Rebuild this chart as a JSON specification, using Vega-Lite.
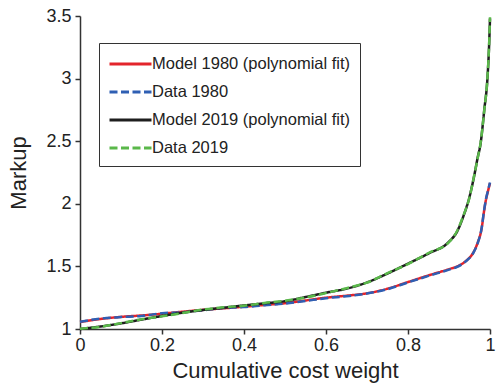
{
  "$schema": "https://vega.github.io/schema/vega-lite/v6.json",
  "width": 410,
  "height": 313,
  "autosize": {"type": "none"},
  "padding": {"left": 80, "top": 16, "right": 7, "bottom": 59},
  "background": "white",
  "config": {
    "view": {"stroke": null},
    "font": "Liberation Sans",
    "axis": {
      "labelFont": "Liberation Sans",
      "titleFont": "Liberation Sans",
      "labelFontSize": 18,
      "titleFontSize": 22,
      "titleFontWeight": "normal",
      "labelColor": "#222",
      "titleColor": "#222",
      "domainColor": "#333",
      "tickColor": "#333",
      "domainWidth": 1.5,
      "tickWidth": 1.5,
      "tickSize": 5,
      "grid": false,
      "labelFlush": false,
      "labelOverlap": false
    },
    "legend": {
      "labelFont": "Liberation Sans",
      "labelFontSize": 16.5,
      "labelColor": "#222",
      "labelLimit": 400
    }
  },
  "data": {
    "values": [
      {"x": 0, "y": 1.056, "series": "Model 1980 (polynomial fit)"},
      {"x": 0.05, "y": 1.080, "series": "Model 1980 (polynomial fit)"},
      {"x": 0.1, "y": 1.097, "series": "Model 1980 (polynomial fit)"},
      {"x": 0.15, "y": 1.108, "series": "Model 1980 (polynomial fit)"},
      {"x": 0.2, "y": 1.122, "series": "Model 1980 (polynomial fit)"},
      {"x": 0.25, "y": 1.138, "series": "Model 1980 (polynomial fit)"},
      {"x": 0.3, "y": 1.153, "series": "Model 1980 (polynomial fit)"},
      {"x": 0.35, "y": 1.165, "series": "Model 1980 (polynomial fit)"},
      {"x": 0.4, "y": 1.178, "series": "Model 1980 (polynomial fit)"},
      {"x": 0.45, "y": 1.192, "series": "Model 1980 (polynomial fit)"},
      {"x": 0.5, "y": 1.206, "series": "Model 1980 (polynomial fit)"},
      {"x": 0.55, "y": 1.228, "series": "Model 1980 (polynomial fit)"},
      {"x": 0.6, "y": 1.250, "series": "Model 1980 (polynomial fit)"},
      {"x": 0.65, "y": 1.266, "series": "Model 1980 (polynomial fit)"},
      {"x": 0.7, "y": 1.285, "series": "Model 1980 (polynomial fit)"},
      {"x": 0.75, "y": 1.322, "series": "Model 1980 (polynomial fit)"},
      {"x": 0.8, "y": 1.375, "series": "Model 1980 (polynomial fit)"},
      {"x": 0.85, "y": 1.428, "series": "Model 1980 (polynomial fit)"},
      {"x": 0.9, "y": 1.478, "series": "Model 1980 (polynomial fit)"},
      {"x": 0.92, "y": 1.500, "series": "Model 1980 (polynomial fit)"},
      {"x": 0.94, "y": 1.540, "series": "Model 1980 (polynomial fit)"},
      {"x": 0.96, "y": 1.615, "series": "Model 1980 (polynomial fit)"},
      {"x": 0.97, "y": 1.690, "series": "Model 1980 (polynomial fit)"},
      {"x": 0.98, "y": 1.810, "series": "Model 1980 (polynomial fit)"},
      {"x": 0.985, "y": 1.930, "series": "Model 1980 (polynomial fit)"},
      {"x": 0.99, "y": 2.030, "series": "Model 1980 (polynomial fit)"},
      {"x": 0.995, "y": 2.100, "series": "Model 1980 (polynomial fit)"},
      {"x": 1.0, "y": 2.165, "series": "Model 1980 (polynomial fit)"},

      {"x": 0, "y": 1.058, "series": "Data 1980"},
      {"x": 0.05, "y": 1.083, "series": "Data 1980"},
      {"x": 0.1, "y": 1.095, "series": "Data 1980"},
      {"x": 0.15, "y": 1.104, "series": "Data 1980"},
      {"x": 0.2, "y": 1.126, "series": "Data 1980"},
      {"x": 0.25, "y": 1.134, "series": "Data 1980"},
      {"x": 0.3, "y": 1.150, "series": "Data 1980"},
      {"x": 0.35, "y": 1.168, "series": "Data 1980"},
      {"x": 0.4, "y": 1.175, "series": "Data 1980"},
      {"x": 0.45, "y": 1.190, "series": "Data 1980"},
      {"x": 0.5, "y": 1.203, "series": "Data 1980"},
      {"x": 0.55, "y": 1.224, "series": "Data 1980"},
      {"x": 0.6, "y": 1.246, "series": "Data 1980"},
      {"x": 0.65, "y": 1.262, "series": "Data 1980"},
      {"x": 0.7, "y": 1.283, "series": "Data 1980"},
      {"x": 0.75, "y": 1.318, "series": "Data 1980"},
      {"x": 0.8, "y": 1.372, "series": "Data 1980"},
      {"x": 0.85, "y": 1.424, "series": "Data 1980"},
      {"x": 0.9, "y": 1.474, "series": "Data 1980"},
      {"x": 0.92, "y": 1.496, "series": "Data 1980"},
      {"x": 0.94, "y": 1.538, "series": "Data 1980"},
      {"x": 0.96, "y": 1.612, "series": "Data 1980"},
      {"x": 0.97, "y": 1.685, "series": "Data 1980"},
      {"x": 0.98, "y": 1.815, "series": "Data 1980"},
      {"x": 0.985, "y": 1.935, "series": "Data 1980"},
      {"x": 0.99, "y": 2.035, "series": "Data 1980"},
      {"x": 0.995, "y": 2.105, "series": "Data 1980"},
      {"x": 1.0, "y": 2.170, "series": "Data 1980"},

      {"x": 0, "y": 1.000, "series": "Model 2019 (polynomial fit)"},
      {"x": 0.05, "y": 1.020, "series": "Model 2019 (polynomial fit)"},
      {"x": 0.1, "y": 1.045, "series": "Model 2019 (polynomial fit)"},
      {"x": 0.15, "y": 1.075, "series": "Model 2019 (polynomial fit)"},
      {"x": 0.2, "y": 1.104, "series": "Model 2019 (polynomial fit)"},
      {"x": 0.25, "y": 1.130, "series": "Model 2019 (polynomial fit)"},
      {"x": 0.3, "y": 1.152, "series": "Model 2019 (polynomial fit)"},
      {"x": 0.35, "y": 1.170, "series": "Model 2019 (polynomial fit)"},
      {"x": 0.4, "y": 1.188, "series": "Model 2019 (polynomial fit)"},
      {"x": 0.45, "y": 1.205, "series": "Model 2019 (polynomial fit)"},
      {"x": 0.5, "y": 1.222, "series": "Model 2019 (polynomial fit)"},
      {"x": 0.55, "y": 1.255, "series": "Model 2019 (polynomial fit)"},
      {"x": 0.6, "y": 1.290, "series": "Model 2019 (polynomial fit)"},
      {"x": 0.65, "y": 1.322, "series": "Model 2019 (polynomial fit)"},
      {"x": 0.7, "y": 1.372, "series": "Model 2019 (polynomial fit)"},
      {"x": 0.75, "y": 1.443, "series": "Model 2019 (polynomial fit)"},
      {"x": 0.8, "y": 1.522, "series": "Model 2019 (polynomial fit)"},
      {"x": 0.85, "y": 1.603, "series": "Model 2019 (polynomial fit)"},
      {"x": 0.9, "y": 1.697, "series": "Model 2019 (polynomial fit)"},
      {"x": 0.92, "y": 1.780, "series": "Model 2019 (polynomial fit)"},
      {"x": 0.935, "y": 1.900, "series": "Model 2019 (polynomial fit)"},
      {"x": 0.95, "y": 2.055, "series": "Model 2019 (polynomial fit)"},
      {"x": 0.961, "y": 2.216, "series": "Model 2019 (polynomial fit)"},
      {"x": 0.97, "y": 2.370, "series": "Model 2019 (polynomial fit)"},
      {"x": 0.977, "y": 2.480, "series": "Model 2019 (polynomial fit)"},
      {"x": 0.986, "y": 2.750, "series": "Model 2019 (polynomial fit)"},
      {"x": 0.994, "y": 3.015, "series": "Model 2019 (polynomial fit)"},
      {"x": 0.998, "y": 3.280, "series": "Model 2019 (polynomial fit)"},
      {"x": 1.0, "y": 3.480, "series": "Model 2019 (polynomial fit)"},

      {"x": 0, "y": 1.002, "series": "Data 2019"},
      {"x": 0.05, "y": 1.018, "series": "Data 2019"},
      {"x": 0.1, "y": 1.047, "series": "Data 2019"},
      {"x": 0.15, "y": 1.078, "series": "Data 2019"},
      {"x": 0.2, "y": 1.101, "series": "Data 2019"},
      {"x": 0.25, "y": 1.127, "series": "Data 2019"},
      {"x": 0.3, "y": 1.155, "series": "Data 2019"},
      {"x": 0.35, "y": 1.173, "series": "Data 2019"},
      {"x": 0.4, "y": 1.186, "series": "Data 2019"},
      {"x": 0.45, "y": 1.208, "series": "Data 2019"},
      {"x": 0.5, "y": 1.226, "series": "Data 2019"},
      {"x": 0.55, "y": 1.252, "series": "Data 2019"},
      {"x": 0.6, "y": 1.287, "series": "Data 2019"},
      {"x": 0.65, "y": 1.326, "series": "Data 2019"},
      {"x": 0.7, "y": 1.370, "series": "Data 2019"},
      {"x": 0.75, "y": 1.447, "series": "Data 2019"},
      {"x": 0.8, "y": 1.519, "series": "Data 2019"},
      {"x": 0.85, "y": 1.607, "series": "Data 2019"},
      {"x": 0.9, "y": 1.693, "series": "Data 2019"},
      {"x": 0.92, "y": 1.785, "series": "Data 2019"},
      {"x": 0.935, "y": 1.905, "series": "Data 2019"},
      {"x": 0.95, "y": 2.050, "series": "Data 2019"},
      {"x": 0.961, "y": 2.220, "series": "Data 2019"},
      {"x": 0.97, "y": 2.365, "series": "Data 2019"},
      {"x": 0.977, "y": 2.485, "series": "Data 2019"},
      {"x": 0.986, "y": 2.745, "series": "Data 2019"},
      {"x": 0.994, "y": 3.020, "series": "Data 2019"},
      {"x": 0.998, "y": 3.285, "series": "Data 2019"},
      {"x": 1.0, "y": 3.490, "series": "Data 2019"}
    ]
  },
  "encoding": {
    "x": {
      "field": "x", "type": "quantitative",
      "scale": {"domain": [0, 1], "nice": false},
      "axis": {"values": [0, 0.2, 0.4, 0.6, 0.8, 1], "format": "~g", "title": "Cumulative cost weight", "labelPadding": 2, "titlePadding": 6}
    },
    "y": {
      "field": "y", "type": "quantitative",
      "scale": {"domain": [1, 3.5], "nice": false},
      "axis": {"values": [1, 1.5, 2, 2.5, 3, 3.5], "format": "~g", "title": "Markup", "labelPadding": 4, "titlePadding": 15}
    },
    "color": {
      "field": "series", "type": "nominal",
      "scale": {
        "domain": ["Model 1980 (polynomial fit)", "Data 1980", "Model 2019 (polynomial fit)", "Data 2019"],
        "range": ["#e3242b", "#2f5fb3", "#1e1e1e", "#5ab84a"]
      },
      "legend": {
        "title": null, "orient": "none", "legendX": 19, "legendY": 27,
        "strokeColor": "#333", "fillColor": "white", "padding": 9,
        "symbolType": "M-1,0H3", "symbolSize": 441, "symbolStrokeWidth": 3,
        "labelOffset": 20, "rowPadding": 7
      }
    },
    "strokeDash": {
      "field": "series", "type": "nominal",
      "scale": {
        "domain": ["Model 1980 (polynomial fit)", "Data 1980", "Model 2019 (polynomial fit)", "Data 2019"],
        "range": [[1, 0], [8, 3.5], [1, 0], [8, 3.5]]
      },
      "legend": {
        "title": null, "orient": "none", "legendX": 19, "legendY": 27,
        "strokeColor": "#333", "fillColor": "white", "padding": 9,
        "symbolType": "M-1,0H3", "symbolSize": 441, "symbolStrokeWidth": 3,
        "labelOffset": 20, "rowPadding": 7
      }
    }
  },
  "layer": [
    {"transform": [{"filter": "datum.series === 'Model 1980 (polynomial fit)'"}], "mark": {"type": "line", "strokeWidth": 2.5, "interpolate": "monotone"}},
    {"transform": [{"filter": "datum.series === 'Data 1980'"}], "mark": {"type": "line", "strokeWidth": 2.5, "interpolate": "monotone"}},
    {"transform": [{"filter": "datum.series === 'Model 2019 (polynomial fit)'"}], "mark": {"type": "line", "strokeWidth": 2.5, "interpolate": "monotone"}},
    {"transform": [{"filter": "datum.series === 'Data 2019'"}], "mark": {"type": "line", "strokeWidth": 2.5, "interpolate": "monotone"}}
  ]
}
